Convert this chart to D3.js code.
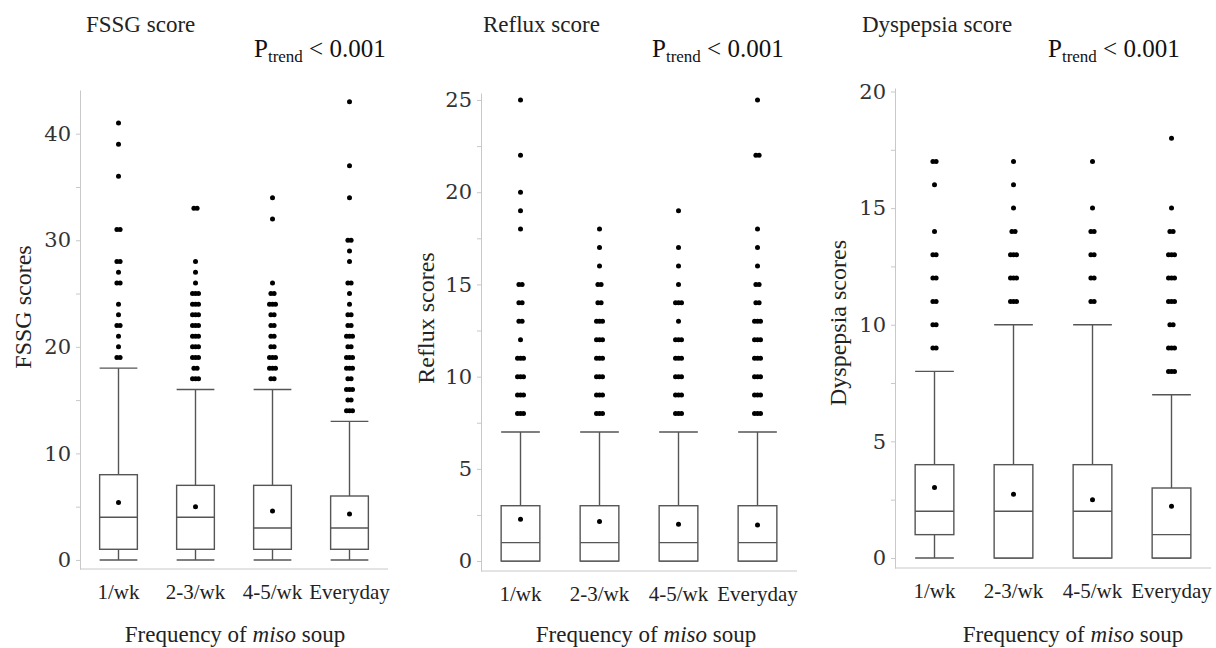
<!DOCTYPE html>
<html>
<head>
<meta charset="utf-8">
<script src="https://cdn.jsdelivr.net/npm/d3@7"></script>
<style>
  body { margin: 0; background: #fff; }
  svg { display: block; }
</style>
</head>
<body>
<div id="chart"></div>
<script>
const categories = ['1/wk', '2-3/wk', '4-5/wk', 'Everyday'];

// box stats per category: [lower whisker, Q1, median, Q3, upper whisker]
const fssgBoxes = [[0, 1, 4, 8, 18], [0, 1, 4, 7, 16], [0, 1, 3, 7, 16], [0, 1, 3, 6, 13]];
const fssgMeans = [5.4, 5.0, 4.6, 4.3];
// outliers: [score, number of overlapping dots]
const fssgOutliers = [
    [[19, 2], [20, 1], [21, 1], [22, 2], [23, 1], [24, 1], [26, 2], [27, 1], [28, 2], [31, 2], [36, 1], [39, 1], [41, 1]],
    [[17, 3], [18, 2], [19, 3], [20, 3], [21, 3], [22, 3], [23, 3], [24, 3], [25, 3], [26, 1], [27, 1], [28, 1], [33, 2]],
    [[17, 2], [18, 3], [19, 3], [20, 2], [21, 2], [22, 2], [23, 2], [24, 3], [25, 2], [26, 1], [32, 1], [34, 1]],
    [[14, 3], [15, 2], [16, 3], [17, 2], [18, 3], [19, 3], [20, 2], [21, 3], [22, 2], [23, 2], [24, 1], [25, 1], [26, 2], [28, 1], [29, 1], [30, 2], [34, 1], [37, 1], [43, 1]]
];
const fssgTicks = [0, 10, 20, 30, 40];
const fssgMinorTicks = [5, 15, 25, 35];

const refluxBoxes = [[0, 0, 1, 3, 7], [0, 0, 1, 3, 7], [0, 0, 1, 3, 7], [0, 0, 1, 3, 7]];
const refluxMeans = [2.26, 2.15, 2.0, 1.95];
const refluxOutliers = [
    [[8, 3], [9, 3], [10, 3], [11, 3], [12, 1], [13, 2], [14, 2], [15, 2], [18, 1], [19, 1], [20, 1], [22, 1], [25, 1]],
    [[8, 3], [9, 3], [10, 3], [11, 3], [12, 3], [13, 3], [14, 2], [15, 2], [16, 1], [17, 1], [18, 1]],
    [[8, 3], [9, 3], [10, 3], [11, 3], [12, 3], [13, 1], [14, 3], [15, 1], [16, 1], [17, 1], [19, 1]],
    [[8, 3], [9, 3], [10, 3], [11, 3], [12, 3], [13, 3], [14, 2], [15, 2], [16, 1], [17, 1], [18, 1], [22, 2], [25, 1]]
];
const refluxTicks = [0, 5, 10, 15, 20, 25];
const refluxMinorTicks = [2.5, 7.5, 12.5, 17.5, 22.5];

const dyspepsiaBoxes = [[0, 1, 2, 4, 8], [0, 0, 2, 4, 10], [0, 0, 2, 4, 10], [0, 0, 1, 3, 7]];
const dyspepsiaMeans = [3.02, 2.73, 2.5, 2.22];
const dyspepsiaOutliers = [
    [[9, 2], [10, 2], [11, 2], [12, 2], [13, 2], [14, 1], [16, 1], [17, 2]],
    [[11, 3], [12, 3], [13, 3], [14, 2], [15, 1], [16, 1], [17, 1]],
    [[11, 2], [12, 2], [13, 2], [14, 2], [15, 1], [17, 1]],
    [[8, 3], [9, 3], [10, 2], [11, 3], [12, 3], [13, 3], [14, 2], [15, 1], [18, 1]]
];
const dyspepsiaTicks = [0, 5, 10, 15, 20];
const dyspepsiaMinorTicks = [2.5, 7.5, 12.5, 17.5];

const totalWidth = 1216;
const totalHeight = 648;

const svg = d3.select('#chart')
    .append('svg')
    .attr('width', totalWidth)
    .attr('height', totalHeight);

const serif = '"Liberation Serif", "Times New Roman", serif';
const lineColor = '#555';
const axisColor = '#c8c8c8';

function drawPanel(p) {
    const g = svg.append('g');

    const x = d3.scaleBand()
        .domain(categories)
        .range([p.left, p.right]);

    const y = d3.scaleLinear()
        .domain([p.yMin, p.yMax])
        .range([p.bottom, p.top]);

    const boxW = x.bandwidth() * 0.49;
    const cx = i => x(categories[i]) + x.bandwidth() / 2;

    // y axis (major + minor ticks)
    const yAxis = g.append('g')
        .attr('transform', `translate(${p.left},0)`)
        .call(d3.axisLeft(y).tickValues(p.ticks).tickSize(4).tickPadding(5).tickSizeOuter(0));
    yAxis.select('.domain').attr('stroke', axisColor);
    yAxis.selectAll('.tick line').attr('stroke', axisColor);
    yAxis.selectAll('.tick text')
        .attr('fill', '#333')
        .style('font-family', '"DejaVu Serif", serif')
        .style('font-size', '21px');

    g.append('g')
        .attr('transform', `translate(${p.left},0)`)
        .call(d3.axisLeft(y).tickValues(p.minorTicks).tickSize(4).tickFormat(''))
        .call(a => a.select('.domain').remove())
        .selectAll('.tick line').attr('stroke', axisColor);

    // x axis
    const xAxis = g.append('g')
        .attr('transform', `translate(0,${p.bottom})`)
        .call(d3.axisBottom(x).tickSize(0).tickPadding(15));
    xAxis.select('.domain').attr('stroke', axisColor).attr('d', `M${p.left},0H${p.right}`);
    xAxis.selectAll('.tick text')
        .attr('fill', '#222')
        .style('font-family', serif)
        .style('font-size', '21px');

    // whiskers
    g.selectAll('.whisker')
        .data(p.boxes)
        .enter()
        .append('line')
        .attr('x1', (d, i) => cx(i))
        .attr('x2', (d, i) => cx(i))
        .attr('y1', d => y(d[0]))
        .attr('y2', d => y(d[4]))
        .attr('stroke', lineColor)
        .attr('stroke-width', 1.4);

    // whisker caps
    [0, 4].forEach(k => {
        g.selectAll('.cap' + k)
            .data(p.boxes)
            .enter()
            .append('line')
            .attr('x1', (d, i) => cx(i) - boxW / 2)
            .attr('x2', (d, i) => cx(i) + boxW / 2)
            .attr('y1', d => y(d[k]))
            .attr('y2', d => y(d[k]))
            .attr('stroke', lineColor)
            .attr('stroke-width', 1.4);
    });

    // boxes
    g.selectAll('.box')
        .data(p.boxes)
        .enter()
        .append('rect')
        .attr('x', (d, i) => cx(i) - boxW / 2)
        .attr('y', d => y(d[3]))
        .attr('width', boxW)
        .attr('height', d => y(d[1]) - y(d[3]))
        .attr('fill', '#fff')
        .attr('stroke', lineColor)
        .attr('stroke-width', 1.4);

    // medians
    g.selectAll('.median')
        .data(p.boxes)
        .enter()
        .append('line')
        .attr('x1', (d, i) => cx(i) - boxW / 2)
        .attr('x2', (d, i) => cx(i) + boxW / 2)
        .attr('y1', d => y(d[2]))
        .attr('y2', d => y(d[2]))
        .attr('stroke', lineColor)
        .attr('stroke-width', 1.4);

    // means
    g.selectAll('.mean')
        .data(p.means)
        .enter()
        .append('circle')
        .attr('cx', (d, i) => cx(i))
        .attr('cy', d => y(d))
        .attr('r', 2.5)
        .attr('fill', '#000');

    // outliers, overlapping observations drawn side by side
    const offsets = { 1: [0], 2: [-1.6, 1.6], 3: [-3, 0, 3] };
    const dots = [];
    p.outliers.forEach((list, i) => {
        list.forEach(o => {
            offsets[o[1]].forEach(dx => dots.push({ i: i, value: o[0], dx: dx }));
        });
    });
    g.selectAll('.outlier')
        .data(dots)
        .enter()
        .append('circle')
        .attr('cx', d => cx(d.i) + d.dx)
        .attr('cy', d => y(d.value))
        .attr('r', 2.5)
        .attr('fill', '#000');

    // titles
    g.append('text')
        .attr('x', p.titleX)
        .attr('y', 32)
        .style('font-family', serif)
        .style('font-size', '23px')
        .attr('fill', '#222')
        .text(p.title);

    const pText = g.append('text')
        .attr('x', p.pX)
        .attr('y', 57)
        .style('font-family', serif)
        .style('font-size', '25px')
        .attr('fill', '#111');
    pText.append('tspan').text('P');
    pText.append('tspan').attr('dy', 5).style('font-size', '17px').text('trend');
    pText.append('tspan').attr('dy', -5).text(' < 0.001');

    g.append('text')
        .attr('transform', `translate(${p.yTitleX},${p.yTitleY}) rotate(-90)`)
        .style('text-anchor', 'middle')
        .style('font-family', serif)
        .style('font-size', '24px')
        .attr('fill', '#222')
        .text(p.yTitle);

    const xt = g.append('text')
        .attr('x', p.xTitleX)
        .attr('y', 642)
        .style('text-anchor', 'middle')
        .style('font-family', serif)
        .style('font-size', '23px')
        .attr('fill', '#222');
    xt.append('tspan').text('Frequency of ');
    xt.append('tspan').style('font-style', 'italic').text('miso');
    xt.append('tspan').text(' soup');
}

drawPanel({
    boxes: fssgBoxes, means: fssgMeans, outliers: fssgOutliers,
    ticks: fssgTicks, minorTicks: fssgMinorTicks,
    left: 80, right: 388, top: 90, bottom: 569, yMin: -0.85, yMax: 44.1,
    title: 'FSSG score', titleX: 86, pX: 254,
    yTitle: 'FSSG scores', yTitleX: 31, yTitleY: 307, xTitleX: 235
});

drawPanel({
    boxes: refluxBoxes, means: refluxMeans, outliers: refluxOutliers,
    ticks: refluxTicks, minorTicks: refluxMinorTicks,
    left: 481, right: 797, top: 93, bottom: 571, yMin: -0.54, yMax: 25.38,
    title: 'Reflux score', titleX: 483, pX: 652,
    yTitle: 'Reflux scores', yTitleX: 434, yTitleY: 318, xTitleX: 646
});

drawPanel({
    boxes: dyspepsiaBoxes, means: dyspepsiaMeans, outliers: dyspepsiaOutliers,
    ticks: dyspepsiaTicks, minorTicks: dyspepsiaMinorTicks,
    left: 895, right: 1211, top: 88, bottom: 568, yMin: -0.43, yMax: 20.15,
    title: 'Dyspepsia score', titleX: 862, pX: 1048,
    yTitle: 'Dyspepsia scores', yTitleX: 846, yTitleY: 323, xTitleX: 1073
});
</script>
</body>
</html>
